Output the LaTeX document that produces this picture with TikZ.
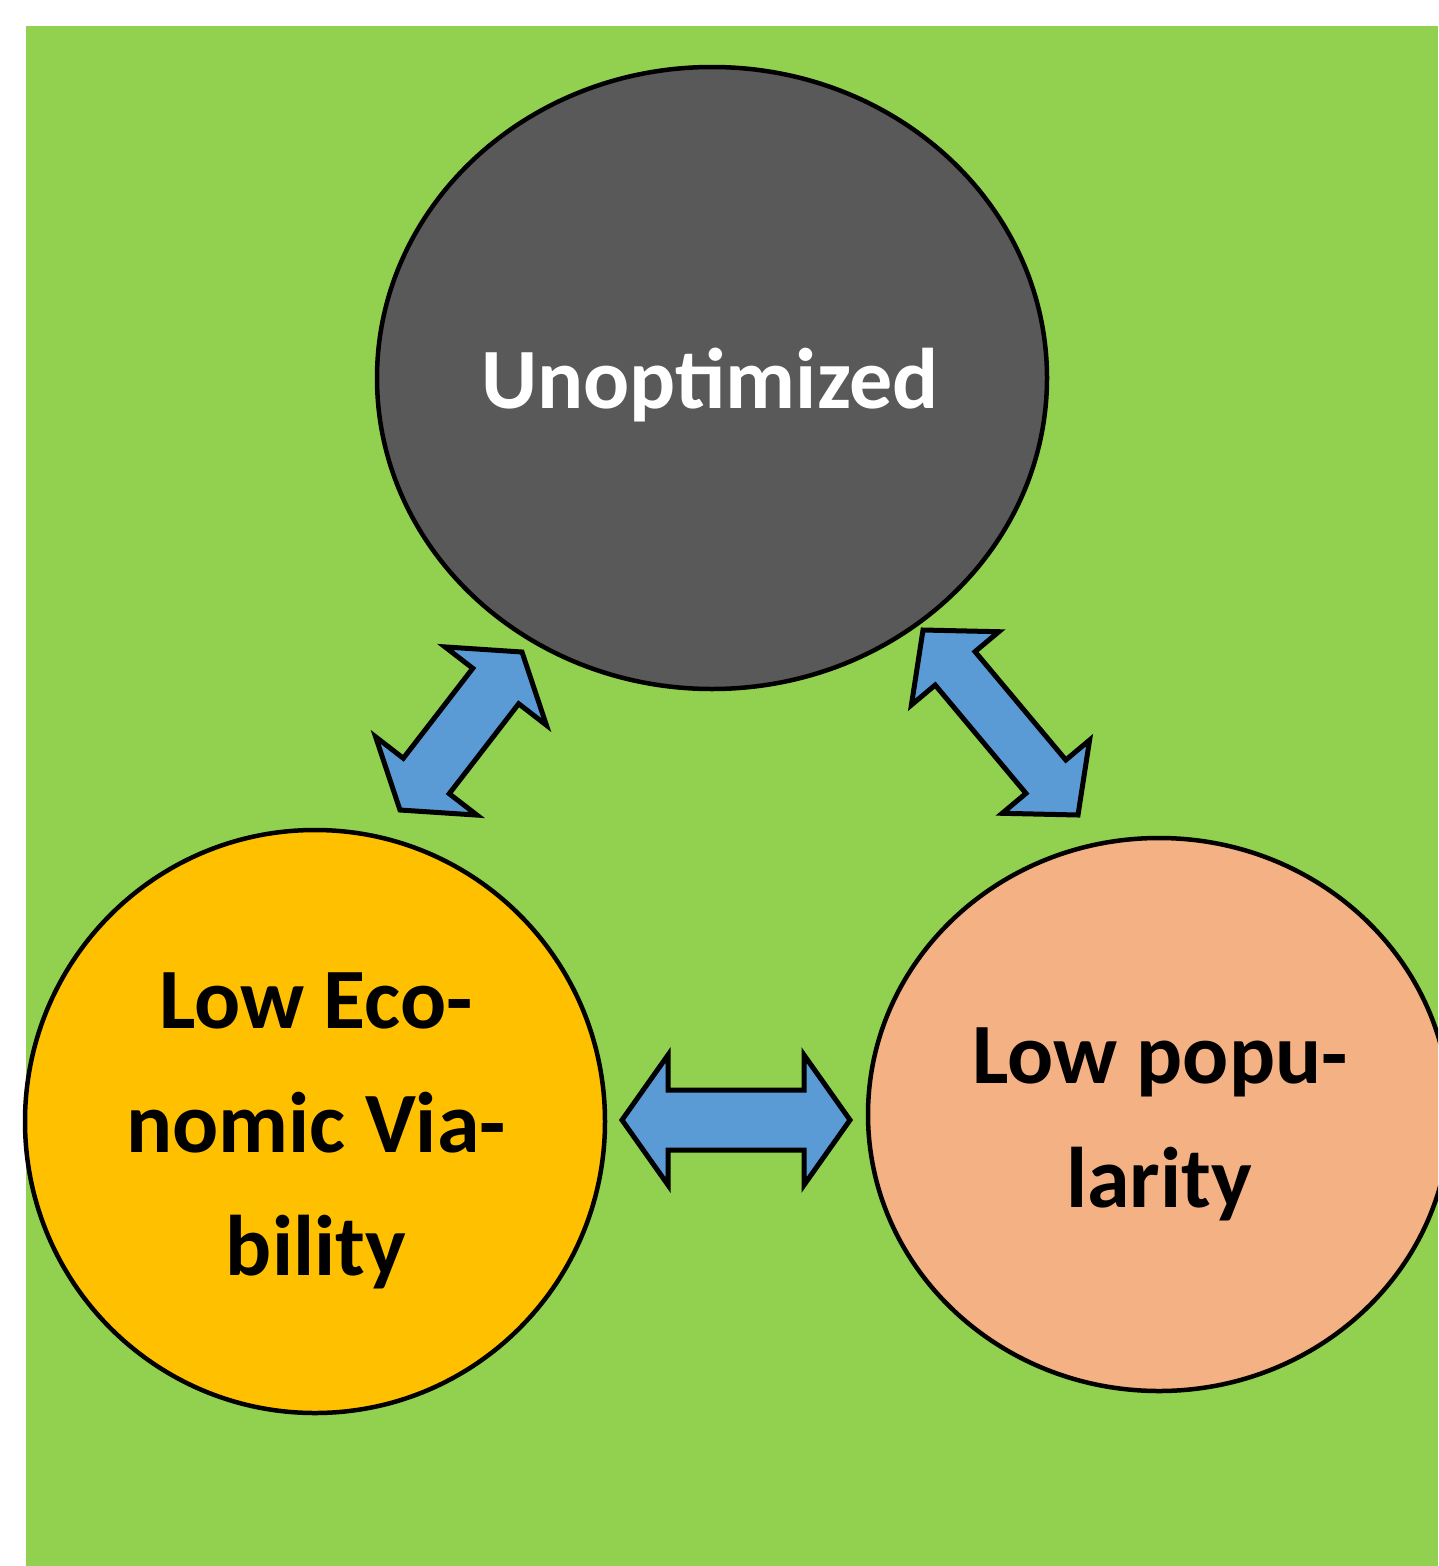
\documentclass[tikz,border=0pt]{standalone}
\usepackage{fontspec}
\setmainfont{Carlito}
\usetikzlibrary{calc,shapes.geometric}
\definecolor{bggreen}{HTML}{92D050}
\definecolor{darkgray}{HTML}{595959}
\definecolor{orangefill}{HTML}{FFC000}
\definecolor{salmonfill}{HTML}{F4B183}
\definecolor{arrowblue}{HTML}{5B9BD5}
\tikzset{
  blob/.style={ellipse, draw=black, line width=4.5pt, inner sep=0pt},
  lbl/.style={anchor=base, inner sep=0pt, font=\fontsize{86}{100}\selectfont\bfseries},
  blockarrow/.style={draw=black, fill=arrowblue, line width=5pt, line join=miter, miter limit=10},
}
% #1,#2 tips; #3 head length; #4 head half-width; #5 shaft half-width
\newcommand{\dblarrow}[5]{%
  \coordinate (#1h) at ($(#1)!#3!(#2)$);
  \coordinate (#2h) at ($(#2)!#3!(#1)$);
  \draw[blockarrow] (#1) -- ($(#1h)!#4!90:(#2)$) -- ($(#1h)!#5!90:(#2)$)
    -- ($(#2h)!#5!-90:(#1)$) -- ($(#2h)!#4!-90:(#1)$) -- (#2)
    -- ($(#2h)!#4!90:(#1)$) -- ($(#2h)!#5!90:(#1)$)
    -- ($(#1h)!#5!-90:(#2)$) -- ($(#1h)!#4!-90:(#2)$) -- cycle;}
\begin{document}
\begin{tikzpicture}[x=1pt,y=-1pt]
\useasboundingbox (0,0) rectangle (1438,1566);
\clip (0,0) rectangle (1438,1566);
\fill[white] (0,0) rectangle (1438,1566);
\fill[bggreen] (26,26) rectangle (1438,1566);

\node[blob, fill=darkgray, minimum width=670pt, minimum height=622pt] (top) at (712,378) {};
\node[blob, fill=orangefill, minimum width=580pt, minimum height=583pt] (left) at (315,1121.5) {};
\node[blob, fill=salmonfill, minimum width=582pt, minimum height=553pt] (right) at (1159,1114.5) {};

\node[lbl, text=white] (t1) at (710,408) {Unoptimized};
\node[lbl] (l1) at (316,1028) {Low Eco-};
\node[lbl] (l2) at (316,1152) {nomic Via-};
\node[lbl] (l3) at (316,1275) {bility};
\node[lbl] (r1) at (1160,1083) {Low popu-};
\node[lbl] (r2) at (1159,1207) {larity};

% arrow tips
\coordinate (a1) at (400,810);
\coordinate (a2) at (522,652);
\coordinate (b1) at (923,630);
\coordinate (b2) at (1078,815);
\coordinate (c1) at (622,1120);
\coordinate (c2) at (850,1120);
\dblarrow{a1}{a2}{43pt}{64pt}{29pt}
\dblarrow{b1}{b2}{50pt}{57pt}{26pt}
\dblarrow{c1}{c2}{46pt}{65pt}{30pt}
\end{tikzpicture}
\end{document}
